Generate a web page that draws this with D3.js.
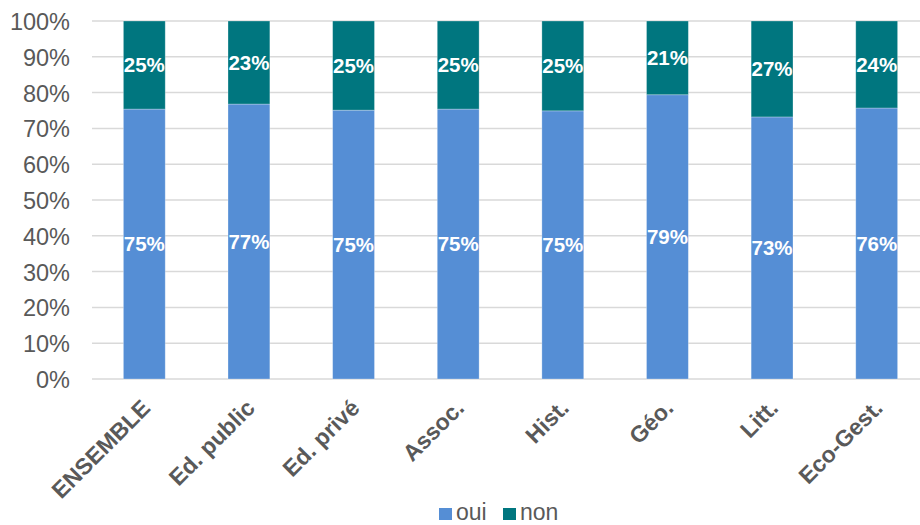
<!DOCTYPE html>
<html><head><meta charset="utf-8">
<script src="https://cdn.jsdelivr.net/npm/d3@7"></script>
<style>body{margin:0;background:#fff}svg{display:block}</style>
</head><body><svg id="c" width="920" height="525"></svg>
<script>
const categories = ["ENSEMBLE","Ed. public","Ed. privé","Assoc.","Hist.","Géo.","Litt.","Eco-Gest."];
const oui = [75.4, 76.8, 75.1, 75.4, 74.9, 79.4, 73.2, 75.7];
const non = oui.map(v => 100 - v);
const ouiLabels = ["75%","77%","75%","75%","75%","79%","73%","76%"];
const nonLabels = ["25%","23%","25%","25%","25%","21%","27%","24%"];
const yTicks = [0,10,20,30,40,50,60,70,80,90,100];
const seriesNames = ["oui","non"];
const colors = {oui:"#558ED5", non:"#00767F"};

const svg = d3.select("#c");
const font = "'Liberation Sans', Arial, sans-serif";
const x = d3.scaleBand().domain(categories).range([92, 929]).paddingInner(0.6).paddingOuter(0.3);
const y = d3.scaleLinear().domain([0,100]).range([379, 21]);

// gridlines
svg.append("g").selectAll("line").data(yTicks).join("line")
  .attr("x1", 92).attr("x2", 920)
  .attr("y1", d => y(d)).attr("y2", d => y(d))
  .attr("stroke", "#d9d9d9").attr("stroke-width", 1.5);

// y axis labels
const yAxis = d3.axisLeft(y).tickValues(yTicks).tickFormat(d => d + "%").tickSize(0).tickPadding(0);
const ga = svg.append("g").attr("transform", "translate(70,0)").call(yAxis);
ga.select(".domain").remove();
ga.selectAll("text").attr("font-family", font).attr("font-size", 23.5).attr("fill", "#595959").attr("dy", "0.36em");

const data = categories.map((c,i) => ({cat:c, oui:oui[i], non:non[i], ol:ouiLabels[i], nl:nonLabels[i]}));
const stack = d3.stack().keys(seriesNames)(data);

svg.append("g").selectAll("g").data(stack).join("g")
  .attr("fill", d => colors[d.key])
  .selectAll("rect").data(d => d).join("rect")
  .attr("x", d => x(d.data.cat)).attr("width", x.bandwidth())
  .attr("y", d => y(d[1])).attr("height", d => y(d[0]) - y(d[1]))
  .attr("stroke", "#ffffff").attr("stroke-opacity", 0.35).attr("stroke-width", 0.8);

// data labels
svg.append("g").selectAll("g").data(stack).join("g")
  .selectAll("text").data(d => d.map(v => ({v, key:d.key}))).join("text")
  .attr("x", d => x(d.v.data.cat) + x.bandwidth()/2)
  .attr("y", d => (y(d.v[0]) + y(d.v[1]))/2)
  .attr("dy", "0.36em")
  .attr("text-anchor", "middle")
  .attr("font-family", font).attr("font-weight", "bold").attr("font-size", 20.5)
  .attr("fill", "#fff")
  .text(d => d.key === "oui" ? d.v.data.ol : d.v.data.nl);

// x labels
svg.append("g").selectAll("text").data(categories).join("text")
  .attr("transform", d => `translate(${x(d) + x.bandwidth()/2 - 4},${398}) rotate(-45)`)
  .attr("text-anchor", "end").attr("dy", "0.7em")
  .attr("font-family", font).attr("font-weight", "bold").attr("font-size", 23)
  .attr("fill", "#595959")
  .text(d => d);

// legend
const leg = svg.append("g");
const legX = [439, 503];
seriesNames.forEach((s,i) => {
  leg.append("rect").attr("x", legX[i]).attr("y", 508).attr("width", 13).attr("height", 12).attr("fill", colors[s]);
  leg.append("text").attr("x", legX[i] + 17).attr("y", 520)
    .attr("font-family", font).attr("font-size", 23).attr("fill", "#595959").text(s);
});
</script></body></html>
